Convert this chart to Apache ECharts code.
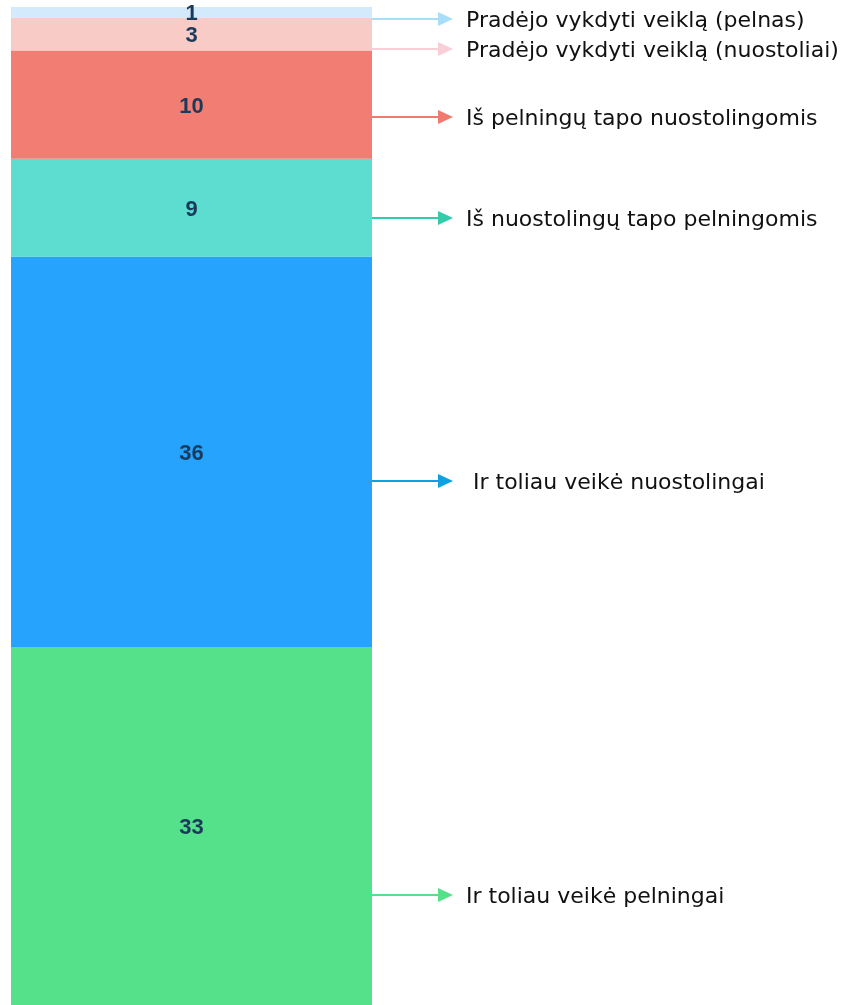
<!DOCTYPE html>
<html>
<head>
<meta charset="utf-8">
<script src="https://cdn.jsdelivr.net/npm/echarts@6/dist/echarts.min.js"></script>
<style>
  html, body { margin: 0; padding: 0; background: #fff; }
  #chart { width: 849px; height: 1005px; }
</style>
</head>
<body>
<div id="chart"></div>
<script>
// ---------------- 数据 ----------------
// 从下往上堆叠
let categories = ['Įmonės'];
let seriesNames = [
  'Ir toliau veikė pelningai',
  'Ir toliau veikė nuostolingai',
  'Iš nuostolingų tapo pelningomis',
  'Iš pelningų tapo nuostolingomis',
  'Pradėjo vykdyti veiklą (nuostoliai)',
  'Pradėjo vykdyti veiklą (pelnas)'
];
let seriesValues = [33, 36, 9, 10, 3, 1];
let barColors = ['#55E08A', '#26A4FD', '#5DDDCF', '#F27D72', '#F9CBC7', '#D2EAFB'];
let arrowColors = ['#55E08A', '#0FA0E0', '#33CBA9', '#F07A70', '#F9CED6', '#A8DEF8'];

// 箭头 + 文字（注释位置）
let notes = [
  { y: 895, x0: 372, tx: 466 },
  { y: 481, x0: 363, tx: 473 },
  { y: 218, x0: 363, tx: 466 },
  { y: 117, x0: 372, tx: 466 },
  { y: 49, x0: 363, tx: 466 },
  { y: 19, x0: 363, tx: 466 }
];

function stackChart() {
  let myChart = echarts.init(document.querySelector('#chart'));

  let series = seriesNames.map(function (name, i) {
    return {
      name: name,
      type: 'bar',
      stack: 'total',
      barWidth: '100%',
      data: [seriesValues[i]],
      itemStyle: { color: barColors[i] },
      label: {
        show: true,
        position: 'inside',
        offset: [0, 2],
        color: '#1A3A5C',
        fontWeight: 'bold',
        fontSize: 22,
        fontFamily: 'Liberation Sans'
      }
    };
  });

  // 箭头和说明文字
  let graphic = [];
  notes.forEach(function (n, i) {
    graphic.push({
      type: 'line',
      shape: { x1: n.x0, y1: n.y, x2: 440, y2: n.y },
      style: { stroke: arrowColors[i], lineWidth: 2 },
      silent: true
    });
    graphic.push({
      type: 'polygon',
      shape: { points: [[438, n.y - 7], [453, n.y], [438, n.y + 7]] },
      style: { fill: arrowColors[i] },
      silent: true
    });
    graphic.push({
      type: 'text',
      x: n.tx,
      y: n.y + 2,
      style: {
        text: seriesNames[i],
        fill: '#111',
        fontSize: 22,
        fontFamily: 'DejaVu Sans',
        verticalAlign: 'middle'
      },
      silent: true
    });
  });

  let option = {
    animation: false,
    grid: { left: 11, width: 361, top: 7, bottom: 0 },
    xAxis: { type: 'category', data: categories, show: false },
    yAxis: { type: 'value', min: 0, max: 92, show: false },
    series: series,
    graphic: graphic
  };
  myChart.setOption(option);
}
stackChart();
</script>
</body>
</html>
